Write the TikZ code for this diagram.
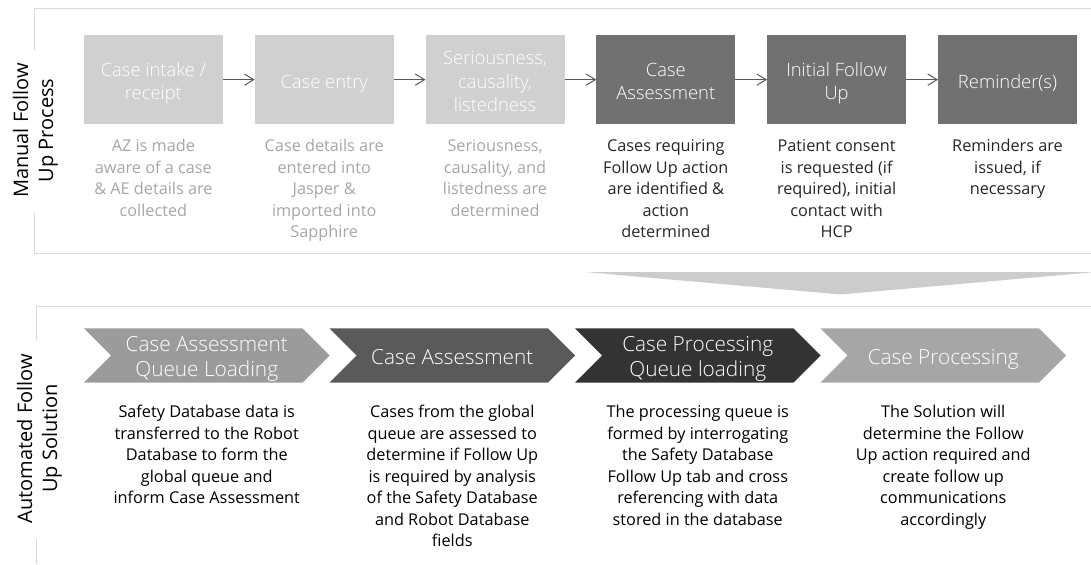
\documentclass[tikz,border=0pt]{standalone}
\usepackage{fontspec}
\setmainfont{Open Sans}
\IfFontExistsTF{Open Sans Light}{\newfontfamily\lightfont{Open Sans Light}}{\newfontfamily\lightfont{Open Sans}}
\usetikzlibrary{arrows.meta}
\definecolor{lightbox}{HTML}{D0D0D0}
\definecolor{darkbox}{HTML}{717171}
\definecolor{lighttext}{HTML}{A6A6A6}
\definecolor{darktext}{HTML}{262626}
\definecolor{panelline}{HTML}{D9D9D9}
\definecolor{arrowgray}{HTML}{595959}
\definecolor{bigarrow}{HTML}{CCCCCC}
\definecolor{chevA}{HTML}{9B9B9B}
\definecolor{chevB}{HTML}{5A5A5A}
\definecolor{chevC}{HTML}{333333}
\definecolor{chevD}{HTML}{A6A6A6}
\begin{document}
\begin{tikzpicture}[x=0.75pt,y=-0.75pt,
  procbox/.style={draw=none, minimum width=104.25pt, minimum height=66.98pt, inner sep=0pt, outer sep=0pt},
  boxtitle/.style={text=white, align=center, inner sep=0pt, yshift=-2.96pt, font=\lightfont\fontsize{13.8}{17.5}\selectfont},
  desc/.style={anchor=north, align=center, inner sep=0pt, font=\fontsize{12.2}{16.1}\selectfont},
  chevtitle/.style={anchor=north, align=center, inner sep=0pt, text=white, font=\lightfont\fontsize{15.6}{18.75}\selectfont},
  sidelabel/.style={rotate=90, align=center, inner sep=0pt, text=black, font=\fontsize{15}{18.75}\selectfont},
  flow/.style={draw=arrowgray, line width=0.75pt, -{Straight Barb[length=7pt,width=8.5pt]}},
  panel/.style={draw=panelline, line width=0.75pt}
]
\useasboundingbox (0,0) rectangle (1091,564);

% panels
\draw[panel] (34,50) -- (34,8.5) -- (1091,8.5);
\draw[panel] (34,213) -- (34,253) -- (1091,253);
\draw[panel] (36,340) -- (36,306) -- (1091,306);
\draw[panel] (36,539) -- (36,564);

% side labels
\node[sidelabel] (lblManual) at (35.5,130.5) {\strut Manual Follow\\\strut Up Process};
\node[sidelabel] (lblAuto) at (39.5,438.5) {\strut Automated Follow\\\strut Up Solution};

% top process boxes
\node[procbox, fill=lightbox] (b1) at (153.4,79.65) {};
\node[procbox, fill=lightbox] (b2) at (324.2,79.65) {};
\node[procbox, fill=lightbox] (b3) at (495.0,79.65) {};
\node[procbox, fill=darkbox]  (b4) at (665.8,79.65) {};
\node[procbox, fill=darkbox]  (b5) at (836.6,79.65) {};
\node[procbox, fill=darkbox]  (b6) at (1007.5,79.65) {};

\node[boxtitle] (t1) at (b1) {\strut Case intake /\\\strut receipt};
\node[boxtitle] (t2) at (b2) {\strut Case entry};
\node[boxtitle] (t3) at (b3) {\strut Seriousness,\\\strut causality,\\\strut listedness};
\node[boxtitle] (t4) at (b4) {\strut Case\\\strut Assessment};
\node[boxtitle] (t5) at (b5) {\strut Initial Follow\\\strut Up};
\node[boxtitle] (t6) at (b6) {\strut Reminder(s)};

\draw[flow] (b1.east) -- (b2.west);
\draw[flow] (b2.east) -- (b3.west);
\draw[flow] (b3.east) -- (b4.west);
\draw[flow] (b4.east) -- (b5.west);
\draw[flow] (b5.east) -- (b6.west);

% top descriptions
\node[desc, text=lighttext] (d1) at (153.4,136.5) {\strut AZ is made\\aware of a case\\\& AE details are\\collected};
\node[desc, text=lighttext] (d2) at (324.2,136.5) {\strut Case details are\\entered into\\Jasper \&\\imported into\\Sapphire};
\node[desc, text=lighttext] (d3) at (495.0,136.5) {\strut Seriousness,\\causality, and\\listedness are\\determined};
\node[desc, text=darktext] (d4) at (665.8,136.5) {\strut Cases requiring\\Follow Up action\\are identified \&\\action\\determined};
\node[desc, text=darktext] (d5) at (836.6,136.5) {\strut Patient consent\\is requested (if\\required), initial\\contact with\\HCP};
\node[desc, text=darktext] (d6) at (1007.5,136.5) {\strut Reminders are\\issued, if\\necessary};

% big down arrow
\fill[bigarrow] (585,272) -- (1096,272) -- (840.5,294.5) -- cycle;

% chevrons
\fill[chevA] (84,328.3) -- (302.5,328.3) -- (329.5,355.5) -- (302.5,382.7) -- (84,382.7) -- (111,355.5) -- cycle;
\fill[chevB] (329.5,328.3) -- (548,328.3) -- (575,355.5) -- (548,382.7) -- (329.5,382.7) -- (356.5,355.5) -- cycle;
\fill[chevC] (575,328.3) -- (793.5,328.3) -- (820.5,355.5) -- (793.5,382.7) -- (575,382.7) -- (602,355.5) -- cycle;
\fill[chevD] (820.5,328.3) -- (1039,328.3) -- (1066,355.5) -- (1039,382.7) -- (820.5,382.7) -- (847.5,355.5) -- cycle;

\node[chevtitle] (c1) at (206.75,334.2) {\strut Case Assessment\\\strut Queue Loading};
\node[chevtitle] (c2) at (452.25,346.5) {\strut Case Assessment};
\node[chevtitle] (c3) at (697.75,334.2) {\strut Case Processing\\\strut Queue loading};
\node[chevtitle] (c4) at (943.25,346.5) {\strut Case Processing};

% bottom descriptions
\node[desc, text=black] (e1) at (206.75,402.4) {\strut Safety Database data is\\transferred to the Robot\\Database to form the\\global queue and\\inform Case Assessment};
\node[desc, text=black] (e2) at (452.25,402.4) {\strut Cases from the global\\queue are assessed to\\determine if Follow Up\\is required by analysis\\of the Safety Database\\and Robot Database\\fields};
\node[desc, text=black] (e3) at (697.75,402.4) {\strut The processing queue is\\formed by interrogating\\the Safety Database\\Follow Up tab and cross\\referencing with data\\stored in the database};
\node[desc, text=black] (e4) at (943.25,402.4) {\strut The Solution will\\determine the Follow\\Up action required and\\create follow up\\communications\\accordingly};
\end{tikzpicture}
\end{document}
